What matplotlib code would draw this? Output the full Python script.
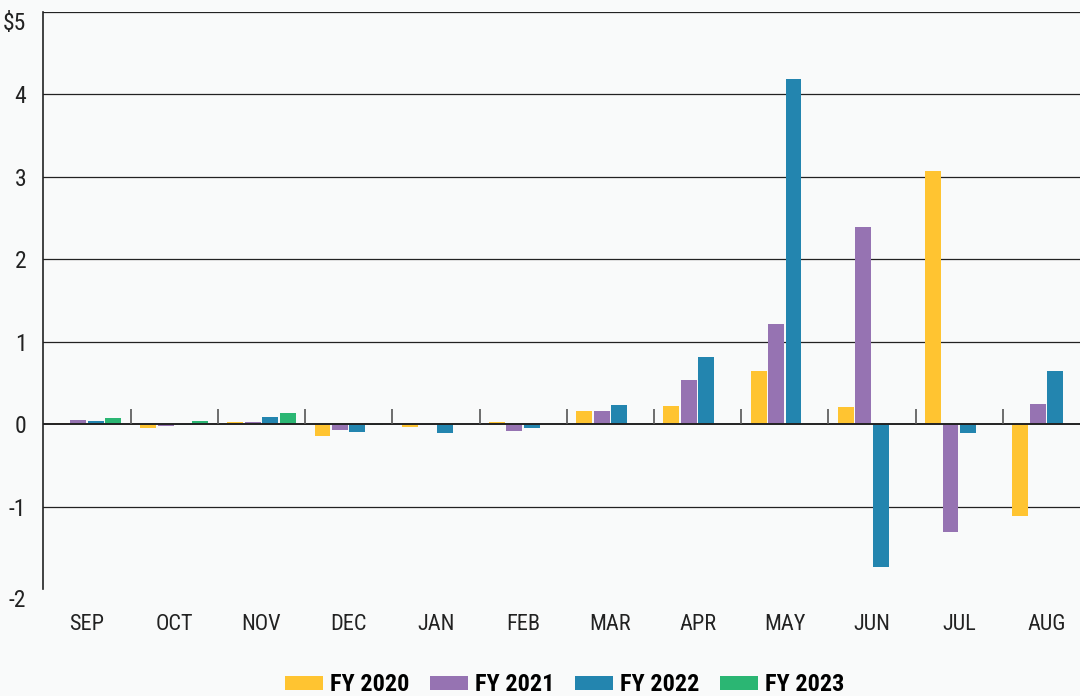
import matplotlib

matplotlib.use("Agg")
import matplotlib.pyplot as plt
import numpy as np
from matplotlib import font_manager
from matplotlib.patches import Patch

months = ["SEP", "OCT", "NOV", "DEC", "JAN", "FEB", "MAR", "APR", "MAY", "JUN", "JUL", "AUG"]
fy2020 = [0.01, -0.05, 0.025, -0.145, -0.03, 0.025, 0.16, 0.22, 0.65, 0.21, 3.07, -1.11]
fy2021 = [0.05, -0.025, 0.025, -0.07, -0.01, -0.085, 0.16, 0.53, 1.22, 2.39, -1.31, 0.24]
fy2022 = [0.04, -0.005, 0.09, -0.09, -0.11, -0.05, 0.23, 0.82, 4.19, -1.73, -0.11, 0.64]
fy2023 = [0.075, 0.035, 0.14, -0.01, 0.005, 0.005, 0.005, 0.005, 0.005, 0.005, 0.005, 0.005]
series_labels = ["FY 2020", "FY 2021", "FY 2022", "FY 2023"]
y_ticks = [-2, -1, 0, 1, 2, 3, 4, 5]
y_tick_labels = ["-2", "-1", "0", "1", "2", "3", "4", "$5"]

COLORS = ["#FFC431", "#9673B2", "#2385AF", "#2BB673"]
BG = "#F9FAFA"

names = {f.name for f in font_manager.fontManager.ttflist}
FONT = ["DejaVu Sans"]
STRETCH = "normal"
for cand in ["Liberation Sans Narrow", "DejaVu Sans Condensed", "Roboto Condensed", "Open Sans Condensed"]:
    if cand in names:
        FONT = [cand, "DejaVu Sans"]
        break
else:
    if any(f.name == "DejaVu Sans" and f.stretch == "condensed" for f in font_manager.fontManager.ttflist):
        STRETCH = "condensed"

plt.rcParams["font.family"] = FONT
plt.rcParams["font.stretch"] = STRETCH

fig = plt.figure(figsize=(10.8, 6.96), dpi=100, facecolor=BG)
ax = fig.add_axes([0.0398, 0.1537, 0.9602, 0.8291], facecolor=BG)

x = np.arange(len(months))
width = 0.183
offsets = [-0.30, -0.10, 0.10, 0.30]
for off, vals, color in zip(offsets, [fy2020, fy2021, fy2022, fy2023], COLORS):
    ax.bar(x + off, vals, width, color=color, zorder=2)

ax.set_xlim(-0.505, 11.385)
ax.set_ylim(-2, 5)

for yv in [1, 2, 3, 4, 5, -1]:
    ax.axhline(yv, color="#222222", linewidth=0.9, zorder=1)
ax.axhline(0, color="#222222", linewidth=1.4, zorder=3)

# small separators between month groups on the zero line
ax.vlines(x[:-1] + 0.5, 0, 0.18, color="#555555", linewidth=1.2, zorder=3)

ax.set_yticks(y_ticks)
ax.set_yticklabels(y_tick_labels, fontsize=17)
ax.set_xticks(x)
ax.set_xticklabels(months, fontsize=16)
ax.tick_params(axis="both", length=0, colors="#222222")
ax.tick_params(axis="y", pad=12)
ax.tick_params(axis="x", pad=18)
for lab in ax.get_yticklabels():
    if lab.get_text() in ("$5", "-2"):
        lab.set_va("top")

for side in ["top", "right", "bottom"]:
    ax.spines[side].set_visible(False)
ax.spines["left"].set_color("#222222")
ax.spines["left"].set_linewidth(1.2)

handles = [Patch(facecolor=c, edgecolor="none") for c in COLORS]
fig.legend(
    handles,
    series_labels,
    loc="center",
    bbox_to_anchor=(0.523, 0.016),
    ncol=4,
    frameon=False,
    handlelength=1.55,
    handleheight=0.5,
    handletextpad=0.3,
    columnspacing=0.85,
    prop={"family": FONT, "weight": "bold", "size": 17.5, "stretch": STRETCH},
)

fig.savefig("out.png", dpi=100, facecolor=BG)
